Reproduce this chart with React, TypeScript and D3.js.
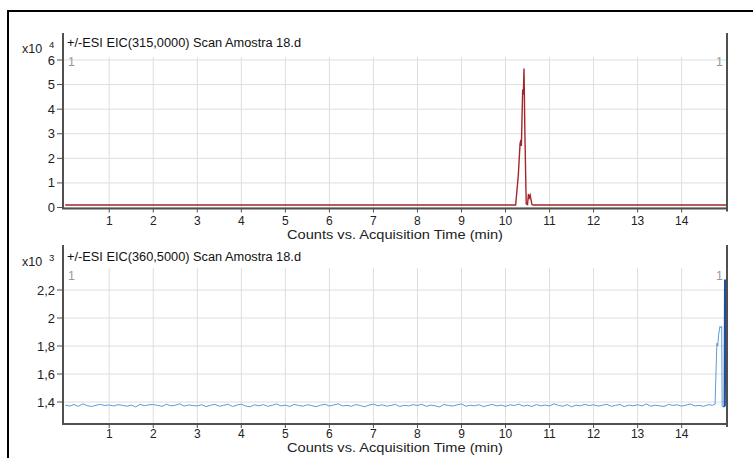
import * as d3 from "d3";

// Acquisition time ticks (min)
const timeTicks = [1, 2, 3, 4, 5, 6, 7, 8, 9, 10, 11, 12, 13, 14];

// EIC 315,0000 (counts x10^4) - [time, counts]
const eic315 = [
  [0, 0.1], [10.23, 0.1], [10.29, 1.3], [10.33, 2.6], [10.35, 2.75], [10.36, 2.5],
  [10.39, 4.8], [10.405, 4.6], [10.42, 5.65], [10.44, 3.0], [10.47, 0.15], [10.5, 0.12],
  [10.52, 0.55], [10.54, 0.4], [10.56, 0.5], [10.6, 0.12], [10.63, 0.1], [15.03, 0.1],
];
const eic315Ticks = [0, 1, 2, 3, 4, 5, 6];

// EIC 360,5000 (counts x10^3) - scans every 0.1 min from 0
const scanStep = 0.1;
const eic360Scans = [
  1.378, 1.371, 1.382, 1.369, 1.387, 1.374, 1.368, 1.377, 1.383, 1.375,
  1.379, 1.372, 1.381, 1.376, 1.370, 1.378, 1.365, 1.383, 1.374, 1.380,
  1.382, 1.376, 1.369, 1.384, 1.373, 1.377, 1.387, 1.371, 1.379, 1.375,
  1.372, 1.381, 1.367, 1.377, 1.383, 1.370, 1.376, 1.384, 1.368, 1.378,
  1.385, 1.371, 1.366, 1.380, 1.373, 1.382, 1.369, 1.377, 1.386, 1.372,
  1.378, 1.368, 1.383, 1.375, 1.370, 1.381, 1.374, 1.367, 1.377, 1.384,
  1.371, 1.379, 1.387, 1.372, 1.376, 1.369, 1.382, 1.375, 1.366, 1.378,
  1.385, 1.373, 1.380, 1.370, 1.376, 1.383, 1.368, 1.377, 1.372, 1.381,
  1.375, 1.384, 1.369, 1.378, 1.373, 1.365, 1.382, 1.376, 1.371, 1.380,
  1.386, 1.370, 1.377, 1.373, 1.381, 1.367, 1.376, 1.383, 1.372, 1.378,
  1.369, 1.380, 1.375, 1.385, 1.371, 1.377, 1.368, 1.382, 1.373, 1.378,
  1.372, 1.387, 1.376, 1.370, 1.381, 1.366, 1.378, 1.373, 1.383, 1.375,
  1.380, 1.371, 1.377, 1.384, 1.369, 1.376, 1.382, 1.367, 1.378, 1.373,
  1.381, 1.372, 1.386, 1.370, 1.377, 1.373, 1.368, 1.383, 1.376, 1.380,
  1.371, 1.378, 1.385, 1.372, 1.376, 1.369, 1.381, 1.377,
];
const eic360Tail = [
  [14.76, 1.385], [14.77, 1.5], [14.8, 1.82], [14.82, 1.8], [14.84, 1.88],
  [14.87, 1.94], [14.89, 1.93], [14.91, 1.94], [14.92, 1.37], [14.95, 1.365],
];
const eic360Spike = [[14.95, 1.365], [14.97, 1.37], [14.98, 2.27], [15.0, 2.27], [15.01, 1.37]];
const eic360Ticks = [1.4, 1.6, 1.8, 2, 2.2];

const W = 753, H = 458;
const FONT = "'Liberation Sans', Arial, sans-serif";

const x = d3.scaleLinear().domain([-0.05, 15.03]).range([63, 727]);

function Panel(props: {
  top: number; axisTop: number; bottom: number; yScale: d3.ScaleLinear<number, number>;
  yTicks: number[]; fmt: (v: number) => string; title: string; exp: string;
  titleY: number; expY: number; oneY: number; tickLabelY: number; axisLabelY: number;
  children?: any;
}) {
  const { top, axisTop, bottom, yScale, yTicks, fmt } = props;
  return (
    <g>
      {/* grid */}
      {timeTicks.map(t => (
        <line key={"v" + t} x1={x(t)} x2={x(t)} y1={top} y2={bottom} stroke="#dedede" />
      ))}
      {yTicks.map(v => (
        <line key={"h" + v} x1={63} x2={727} y1={yScale(v)} y2={yScale(v)} stroke="#dedede" />
      ))}
      {props.children}
      {/* axes */}
      <line x1={63} x2={63} y1={axisTop} y2={bottom} stroke="#505050" strokeWidth={2} />
      <line x1={727} x2={727} y1={axisTop} y2={bottom + 3} stroke="#505050" strokeWidth={2} />
      <line x1={62} x2={728} y1={bottom} y2={bottom} stroke="#505050" strokeWidth={2} />
      {yTicks.map(v => (
        <g key={"yt" + v}>
          <line x1={57} x2={63} y1={yScale(v)} y2={yScale(v)} stroke="#505050" />
          <text x={55} y={yScale(v) + 4.5} textAnchor="end" fontSize={13} fill="#222">{fmt(v)}</text>
        </g>
      ))}
      {timeTicks.map(t => (
        <g key={"xt" + t}>
          <line x1={x(t)} x2={x(t)} y1={bottom} y2={bottom + 4} stroke="#505050" />
          <text x={x(t)} y={props.tickLabelY} textAnchor="middle" fontSize={12} fill="#222">{t}</text>
        </g>
      ))}
      <text x={287} y={props.axisLabelY} fontSize={12} fill="#222"
        textLength={216} lengthAdjust="spacingAndGlyphs">
        Counts vs. Acquisition Time (min)
      </text>
      <text x={67} y={props.titleY} fontSize={12.3} fill="#111"
        textLength={234} lengthAdjust="spacingAndGlyphs">{props.title}</text>
      <text x={22} y={props.expY} fontSize={12.5} fill="#222">x10</text>
      <text x={49} y={props.expY - 5} fontSize={9.5} fill="#222">{props.exp}</text>
      <text x={68} y={props.oneY} fontSize={12.5} fill="#999">1</text>
      <text x={716} y={props.oneY} fontSize={12.5} fill="#999">1</text>
    </g>
  );
}

export default function App() {
  const yTop = d3.scaleLinear().domain([-0.04, 6]).range([208.5, 60]);
  const yBot = d3.scaleLinear().domain([1.243, 2.2]).range([424, 290]);

  const lineTop = d3.line<number[]>().x(d => x(d[0])).y(d => yTop(d[1]));
  const lineBot = d3.line<number[]>().x(d => x(d[0])).y(d => yBot(d[1]));

  const scans = eic360Scans.map((v, i) => [i * scanStep, v]);
  const blue = scans.concat(eic360Tail);

  const fmtTop = (v: number) => String(v);
  const fmtBot = (v: number) => String(v).replace(".", ",");

  return (
    <svg width={W} height={H} style={{ position: "absolute", left: 0, top: 0, background: "#fff" }}
      fontFamily={FONT}>
      <rect width={W} height={H} fill="#fff" />
      <line x1={8} x2={W} y1={11} y2={11} stroke="#000" strokeWidth={2} />
      <line x1={8} x2={8} y1={10} y2={H} stroke="#000" strokeWidth={2} />

      <Panel top={57} axisTop={33} bottom={208.5} yScale={yTop} yTicks={eic315Ticks} fmt={fmtTop}
        title="+/-ESI EIC(315,0000) Scan Amostra 18.d" exp="4"
        titleY={47} expY={53} oneY={66} tickLabelY={225} axisLabelY={239}>
        <path d={lineTop(eic315) || ""} fill="none" stroke="#a3262a" strokeWidth={1.4} />
      </Panel>

      <Panel top={268} axisTop={245} bottom={424} yScale={yBot} yTicks={eic360Ticks} fmt={fmtBot}
        title="+/-ESI EIC(360,5000) Scan Amostra 18.d" exp="3"
        titleY={261} expY={266} oneY={280} tickLabelY={438} axisLabelY={452}>
        <path d={lineBot(blue) || ""} fill="none" stroke="#5b9bd8" strokeWidth={1} />
        <path d={lineBot(eic360Spike) || ""} fill="none" stroke="#1f4f9c" strokeWidth={1.6} />
      </Panel>
    </svg>
  );
}
